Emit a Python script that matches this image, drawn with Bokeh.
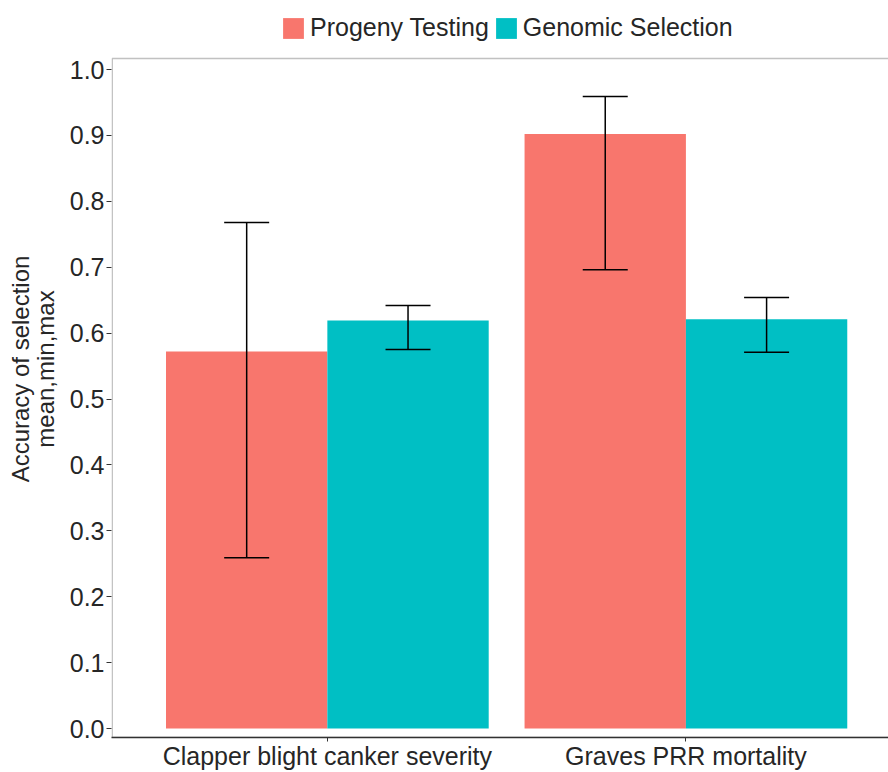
from bokeh.plotting import figure
from bokeh.models import (ColumnDataSource, Whisker, TeeHead, Legend, LegendItem,
                          BoxAnnotation, Range1d, FixedTicker, NumeralTickFormatter)
from bokeh.embed import file_html
from bokeh.resources import INLINE

categories = ["Clapper blight canker severity", "Graves PRR mortality"]
series = ["Progeny Testing", "Genomic Selection"]
pt_mean = [0.572, 0.902]
pt_min = [0.259, 0.696]
pt_max = [0.768, 0.959]
gs_mean = [0.619, 0.621]
gs_min = [0.575, 0.571]
gs_max = [0.642, 0.654]
y_ticks = [0.0, 0.1, 0.2, 0.3, 0.4, 0.5, 0.6, 0.7, 0.8, 0.9, 1.0]

colors = ["#F8766D", "#00BFC4"]
FONT = "Liberation Sans"
TEXT = "#262626"
LINE = "#333333"

W, H = 888, 772
BOTTOM = 35
FRAME_H = H - BOTTOM
PX_PER_UNIT = 659.0
Y0_PIX = 728.0          # page y of value 0.0
y_start = -(FRAME_H - Y0_PIX) / PX_PER_UNIT
y_end = Y0_PIX / PX_PER_UNIT
x_start, x_end = 0.398, 2.565

p = figure(width=W, height=H, output_backend="svg", toolbar_location=None,
           x_range=Range1d(x_start, x_end), y_range=Range1d(y_start, y_end),
           min_border_left=111, min_border_right=0, min_border_top=0,
           min_border_bottom=BOTTOM)
p.xgrid.visible = False
p.ygrid.visible = False
p.outline_line_color = None
p.background_fill_color = "white"
p.border_fill_color = "white"

pos = [i + 1 for i in range(len(categories))]
offsets = [-0.225, 0.225]
bar_w = 0.45
data = [(pt_mean, pt_min, pt_max), (gs_mean, gs_min, gs_max)]

items = []
for k, (name, (mean, lo, hi)) in enumerate(zip(series, data)):
    src = ColumnDataSource(dict(x=[c + offsets[k] for c in pos], top=mean, lo=lo, hi=hi))
    r = p.vbar(x="x", top="top", bottom=0, width=bar_w, source=src,
               fill_color=colors[k], line_color=None)
    items.append(LegendItem(label=name, renderers=[r]))
    w = Whisker(base="x", upper="hi", lower="lo", source=src, level="overlay",
                line_color="black", line_width=1.5,
                upper_head=TeeHead(size=45, line_color="black", line_width=1.5),
                lower_head=TeeHead(size=45, line_color="black", line_width=1.5))
    p.add_layout(w)

# panel border (top / left), right side runs off the picture as in the reference
border = BoxAnnotation(left=0.4, right=x_end + 0.1, bottom=y_start, top=1.0167,
                       fill_alpha=0, line_color=LINE, line_width=1.5, level="overlay")
p.add_layout(border)

for ax in (p.xaxis[0], p.yaxis[0]):
    ax.axis_line_color = LINE
    ax.axis_line_width = 1.5
    ax.major_tick_line_color = LINE
    ax.major_tick_line_width = 1
    ax.major_tick_out = 5
    ax.major_tick_in = 0
    ax.minor_tick_line_color = None
    ax.major_label_text_font = FONT
    ax.major_label_text_color = TEXT
    ax.major_label_text_font_size = "25px"

p.yaxis.axis_line_color = None

p.xaxis.ticker = FixedTicker(ticks=pos)
p.xaxis.major_label_overrides = {c: categories[i] for i, c in enumerate(pos)}
p.xaxis.major_tick_out = 4
p.xaxis.major_label_standoff = 0

p.yaxis.ticker = FixedTicker(ticks=y_ticks)
p.yaxis.formatter = NumeralTickFormatter(format="0.0")
p.yaxis.major_label_standoff = 2
p.yaxis.axis_label = "Accuracy of selection\nmean,min,max"
p.yaxis.axis_label_text_font = FONT
p.yaxis.axis_label_text_font_style = "normal"
p.yaxis.axis_label_text_font_size = "24px"
p.yaxis.axis_label_text_color = TEXT
p.yaxis.axis_label_text_line_height = 0.9
p.yaxis.axis_label_standoff = 8

legend = Legend(items=items, orientation="horizontal",
                location=(169, FRAME_H - 42),
                glyph_width=26, glyph_height=26, label_text_font_size="25px",
                label_text_font=FONT, label_text_color=TEXT,
                spacing=4, label_standoff=4, padding=0, margin=0,
                border_line_color=None, background_fill_alpha=0)
p.add_layout(legend)

open("out.html", "w").write(file_html(p, INLINE))
